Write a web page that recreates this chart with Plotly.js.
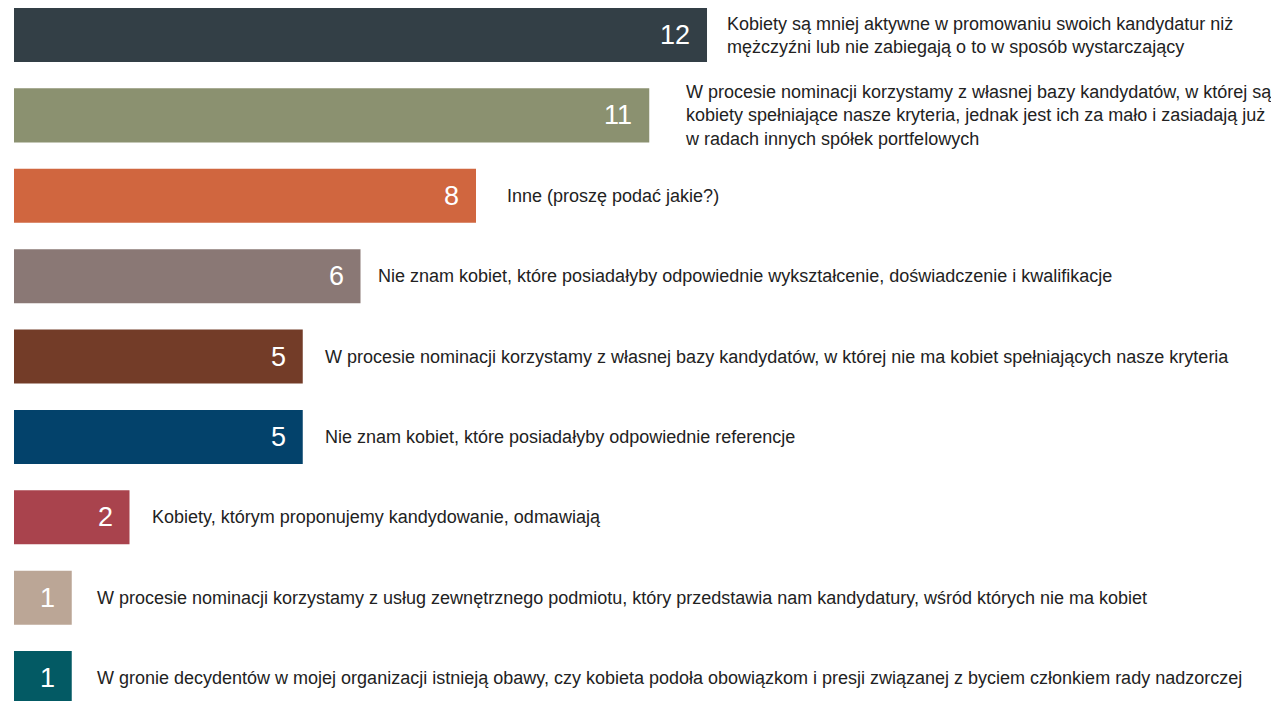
<!DOCTYPE html>
<html>
<head>
<meta charset="utf-8">
<script src="https://cdn.plot.ly/plotly-3.0.1.min.js"></script>
<style>html,body{margin:0;padding:0;background:#fff;}#chart{width:1271px;height:701px;}</style>
</head>
<body>
<div id="chart"></div>
<script>
// ---- data ----
const categories = [
  "Kobiety są mniej aktywne w promowaniu swoich kandydatur niż<br>mężczyźni lub nie zabiegają o to w sposób wystarczający",
  "W procesie nominacji korzystamy z własnej bazy kandydatów, w której są<br>kobiety spełniające nasze kryteria, jednak jest ich za mało i zasiadają już<br>w radach innych spółek portfelowych",
  "Inne (proszę podać jakie?)",
  "Nie znam kobiet, które posiadałyby odpowiednie wykształcenie, doświadczenie i kwalifikacje",
  "W procesie nominacji korzystamy z własnej bazy kandydatów, w której nie ma kobiet spełniających nasze kryteria",
  "Nie znam kobiet, które posiadałyby odpowiednie referencje",
  "Kobiety, którym proponujemy kandydowanie, odmawiają",
  "W procesie nominacji korzystamy z usług zewnętrznego podmiotu, który przedstawia nam kandydatury, wśród których nie ma kobiet",
  "W gronie decydentów w mojej organizacji istnieją obawy, czy kobieta podoła obowiązkom i presji związanej z byciem członkiem rady nadzorczej"
];
const values = [12, 11, 8, 6, 5, 5, 2, 1, 1];

// ---- style ----
const barColors = ["#333f46", "#8b9170", "#d0663f", "#8a7875", "#733c28", "#03426b", "#a9434d", "#bba696", "#035a64"];
const labelGaps = [20, 36, 31, 17, 22, 22, 22, 25, 25];

const idx = categories.map((_, i) => i);

const trace = {
  type: "bar",
  orientation: "h",
  y: idx,
  x: values,
  width: 0.672,
  marker: { color: barColors, line: { width: 0 } },
  hoverinfo: "skip"
};

const annotations = [];
values.forEach((v, i) => {
  annotations.push({
    x: v, y: i, xref: "x", yref: "y",
    text: String(v), showarrow: false,
    xanchor: "right", yanchor: "middle", xshift: -15,
    font: { family: "Liberation Sans, Arial, sans-serif", size: 27, color: "#ffffff" }
  });
  annotations.push({
    x: v, y: i, xref: "x", yref: "y",
    text: categories[i], showarrow: false, align: "left",
    xanchor: "left", yanchor: "middle", xshift: labelGaps[i] - 2,
    font: { family: "Liberation Sans, Arial, sans-serif", size: 18, color: "#222222" }
  });
});

const layout = {
  width: 1271, height: 701,
  margin: { l: 14, r: 0, t: 0, b: 0, pad: 0 },
  paper_bgcolor: "#ffffff", plot_bgcolor: "#ffffff",
  showlegend: false,
  xaxis: { range: [0, 21.766], visible: false, fixedrange: true },
  yaxis: { range: [8.286, -0.4355], visible: false, fixedrange: true },
  annotations: annotations
};

Plotly.newPlot("chart", [trace], layout, { displayModeBar: false, staticPlot: true });
</script>
</body>
</html>
